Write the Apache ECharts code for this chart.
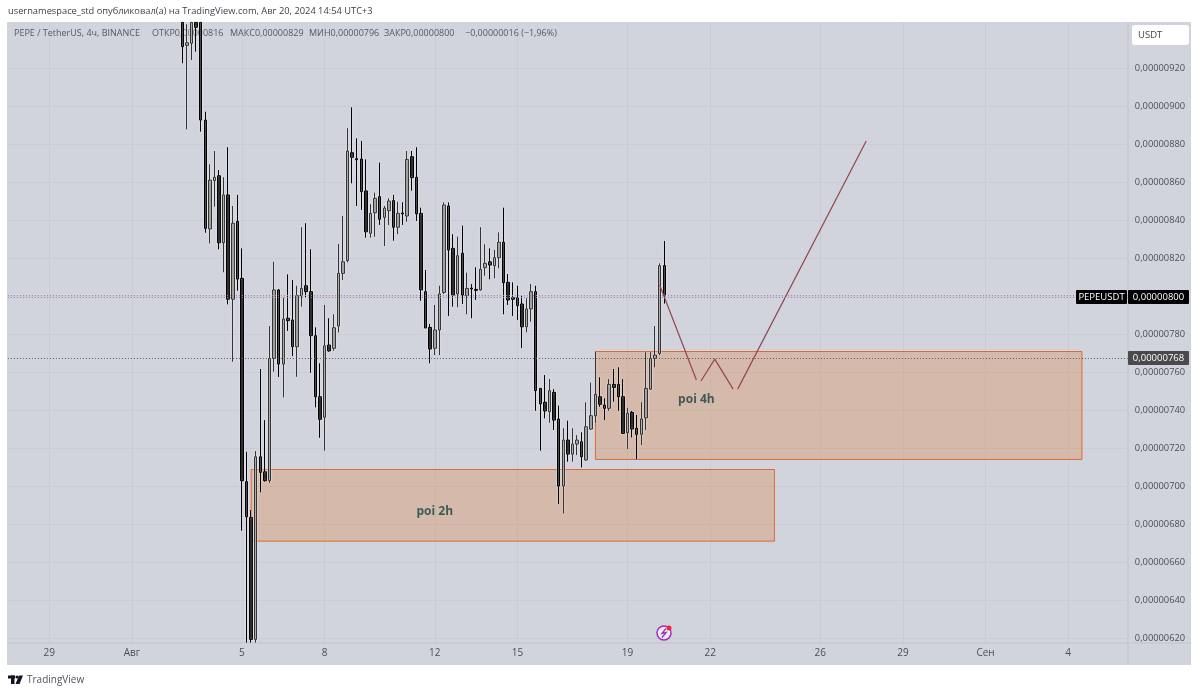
<!DOCTYPE html>
<html>
<head>
<meta charset="utf-8">
<style>
html, body { margin: 0; padding: 0; background: #fff; }
#chart { width: 1200px; height: 694px; }
</style>
<script src="https://cdn.jsdelivr.net/npm/echarts@6/dist/echarts.min.js"></script>
</head>
<body>
<div id="chart"></div>
<script>
// prices are in units of 0,00000001
var firstSlot = 38; // slot of the first candle that shows
var opens = [944,931.9,933,944,944,892.6,835.3,860.7,863.3,828,853.2,798.3,839.3,809.3,702.3,683.5,619.3,715.4,707.5,702.8,767.2,803.2,764.2,788.3,787.4,773.3,800,805.4,802.3,779.1,747,736.2,774.2,772.5,784.2,811.9,818.6,875.4,872.3,872.1,855.3,833,843.8,852.3,841.4,844.9,850.2,836.2,843.7,842.1,873.3,862.5,843.5,802.3,783.5,772.5,782.1,801.9,847.4,825.1,801.1,822.5,800.2,804.2,803.5,803.2,814.9,818,815.9,820.2,828.3,807.2,799.1,799.1,795.8,783.8,793.2,802.3,751.4,744.1,739.1,749.3,735.3,700,724.2,716.8,722.1,723.3,713.7,730,737,747,742.6,740.9,753.5,753.5,747,728.1,738.8,730.4,727.2,735.9,751,767.2,769.8,816];
var closes = [931.2,933.3,944,941.4,892.6,835.6,861,862.5,828,853.2,798.3,838.3,808.9,702.8,683.8,619.3,715.4,707.2,702.8,767.2,803.2,764.2,787.9,787,773.3,800.2,804,802.3,779.1,747,735.1,773.8,771.1,783.3,811.9,818,876.3,873,871.7,854.9,833.8,843.5,851.4,840.4,846.3,850,836.2,843.5,843.2,871.9,862.3,843.2,803.2,783.2,772.1,782.1,801.1,847.9,824.2,800.5,821.2,800.5,804,803.7,803,814.1,817.2,816.3,820.2,828.3,807,797.9,798.3,794.9,783.8,793.2,802.3,750.2,743.2,739.5,750.2,734.7,700,724.2,716.8,722.1,724.2,715.4,731.2,737,748.3,743,740.9,753.5,751.9,747,727.7,738.3,730,727.2,735.3,751.4,767.2,768.9,816,800];
var lows = [922.5,887.7,924.2,928.6,886.5,833.3,827.7,847,824.6,812.5,795.6,765.4,802.8,676.5,617.6,617.6,617.6,696.7,702.3,701.7,760.2,757.4,746.7,781.6,768.4,757.5,794.4,799.3,759.6,741.4,725.4,718.6,770.7,771.2,780.8,808.4,817.7,859.3,847.4,845.3,830.7,830.7,831.2,837.4,826.3,837.4,829.1,832.6,837.4,839.1,855.4,839.5,797.5,783,764.6,768.9,768.9,801.1,789.5,794.4,794.1,795.8,790.4,788.3,797.9,802.8,810.7,808.8,809.3,814.6,790.4,795.3,789.5,787.4,772.6,780.9,786.5,739.6,718.6,735.6,733.3,729.5,690.5,685.6,712.8,712.8,716.3,709.8,713.3,729.5,733.3,741.7,734.7,739.6,744.4,739.6,727.5,719.5,725.6,714.1,721.6,729.5,750.5,762.5,768.9,796];
var highs = [944,943,944,944,944,897,869.3,876.3,866.3,862.5,878.3,847.4,853.2,825.1,718,687.4,718.4,761.6,734.7,784.2,818,803.7,799.1,811.4,808.4,805.4,836.2,838.3,824.6,783.5,764.6,795.3,788.3,790.4,827.4,842.1,888.3,899.3,883,881.6,871.9,848.3,854.4,870.2,847.4,851.4,853.2,849.6,849.3,876.3,876.3,878.3,846.5,813.7,785.3,795.3,805.4,849.3,849.3,832.5,831.2,837,812.3,806.3,815.1,836.2,827.2,825.1,824.2,833.5,846.5,811.6,807.2,805.4,800.3,798.8,806.3,805.4,751.4,758.4,756.3,751,742.3,730.4,734.4,730.4,726.8,728.3,744.1,754.4,770.7,757.2,746.2,756.3,761.6,762.5,756.3,741.2,739.5,737.4,744.1,770.4,770.4,784.2,817.2,829];

var slotCount = 245;
var tickSlots = [9,27,51,69,93,111,135,153,177,195,213,231];
var tickLabels = ['29','Авг','5','8','12','15','19','22','26','29','Сен','4'];
var priceTicks = [620,640,660,680,700,720,740,760,780,800,820,840,860,880,900,920];

var lastPrice = 800;
var prevClose = 768;
var zoneSlots = [[53,167],[128,234]];   // poi 2h, poi 4h
var zonePrices = [[708.7,671],[770.8,714]];
var zoneNames = ['poi 2h','poi 4h'];
var zoneNameSlots = [93,150];
var zoneNamePrices = [686.6,745.5];
// three strokes of the projected path
var pathSlots = [[142,150],[151,154,158],[159,187]];
var pathPrices = [[805.8,755.8],[755.3,766.8,751],[751,881.6]];

var font = '"Open Sans", sans-serif';
var slotNames = [];
for (var k = 0; k < slotCount; k++) slotNames.push('s' + k);

var candles = opens.map(function (o, i) {
	return [firstSlot + i, o, closes[i], lows[i], highs[i]];
});
var pathData = [];
pathSlots.forEach(function (stroke, n) {
	if (n > 0) pathData.push([stroke[0], null]);
	stroke.forEach(function (s, i) { pathData.push([s, pathPrices[n][i]]); });
});

function priceText(v) {
	return '0,00000' + v;
}
function tagBox(x, y, w, h, fill, text) {
	return [
		{ type: 'rect', z: 6, shape: { x: x, y: y, width: w, height: h, r: 1 }, style: { fill: fill } },
		{ type: 'text', z: 7, x: x + w / 2, y: y + h / 2, style: { text: text, fill: '#fff', font: '9.5px ' + font, align: 'center', verticalAlign: 'middle' } }
	];
}
function topText(x, y, text, color, size) {
	return { type: 'text', z: 1, x: x, y: y, style: { text: text, fill: color, font: size + 'px ' + font, verticalAlign: 'middle' } };
}

var graphics = [
	{ type: 'rect', z: -1, shape: { x: 7, y: 22, width: 1184, height: 643 }, style: { fill: '#d1d4dd' } },
	{ type: 'line', z: 1, shape: { x1: 1128, y1: 22, x2: 1128, y2: 665 }, style: { stroke: '#c1c4cd', lineWidth: 1 } },
	{ type: 'line', z: 1, shape: { x1: 7, y1: 643, x2: 1191, y2: 643 }, style: { stroke: '#c1c4cd', lineWidth: 1 } },
	topText(8, 11, 'usernamespace_std опубликовал(а) на TradingView.com, Авг 20, 2024 14:54 UTC+3', '#3c3f48', 9.3),
	topText(14, 33, 'PEPE / TetherUS, 4ч, BINANCE', '#555964', 9),
	topText(152, 33, 'ОТКР0,00000816', '#555964', 9),
	topText(230, 33, 'МАКС0,00000829', '#555964', 9),
	topText(309, 33, 'МИН0,00000796', '#555964', 9),
	topText(384, 33, 'ЗАКР0,00000800', '#555964', 9),
	topText(465, 33, '−0,00000016 (−1,96%)', '#555964', 9),
	{ type: 'rect', z: 6, shape: { x: 1132, y: 25, width: 57, height: 20, r: 3 }, style: { fill: '#fff' } },
	{ type: 'text', z: 7, x: 1138, y: 35, style: { text: 'USDT', fill: '#3c3f48', font: '9.5px ' + font, verticalAlign: 'middle' } },
	// tradingview logo
	{ type: 'rect', z: 1, shape: { x: 8, y: 675.5, width: 7, height: 3 }, style: { fill: '#131722' } },
	{ type: 'rect', z: 1, shape: { x: 11, y: 675.5, width: 3.5, height: 8.5 }, style: { fill: '#131722' } },
	{ type: 'circle', z: 1, shape: { cx: 17, cy: 677, r: 1.6 }, style: { fill: '#131722' } },
	{ type: 'polygon', z: 1, shape: { points: [[19, 675.5], [23, 675.5], [19.5, 684], [15.5, 684]] }, style: { fill: '#131722' } },
	topText(27, 680, 'TradingView', '#50535e', 10),
	// bolt badge
	{ type: 'circle', z: 6, shape: { cx: 664, cy: 633, r: 7 }, style: { fill: '#eceaf2', stroke: '#a02fc0', lineWidth: 1.5 } },
	{ type: 'polyline', z: 7, shape: { points: [[666, 628.5], [662, 633.5], [666, 632.5], [662, 637.5]] }, style: { stroke: '#a02fc0', fill: null, lineWidth: 1.3 } },
	{ type: 'circle', z: 7, shape: { cx: 669, cy: 628, r: 2.5 }, style: { fill: '#e8283c' } }
];
graphics = graphics
	.concat(tagBox(1076, 290, 51, 14, '#000', 'PEPEUSDT'))
	.concat(tagBox(1128, 290, 61, 14, '#000', priceText(lastPrice)))
	.concat(tagBox(1128, 351, 61, 14, '#4a4a4a', priceText(prevClose)));

var chart = echarts.init(document.getElementById('chart'), null, { renderer: 'canvas' });
chart.setOption({
	animation: false,
	backgroundColor: 'transparent',
	graphic: { elements: graphics },
	grid: { left: 7.89, right: 72.15, top: 22, bottom: 51, containLabel: false },
	xAxis: {
		type: 'category',
		data: slotNames,
		boundaryGap: false,
		axisLine: { show: false },
		axisTick: { show: false },
		axisLabel: {
			interval: function (idx) { return tickSlots.indexOf(idx) >= 0; },
			formatter: function (value) { return tickLabels[tickSlots.indexOf(slotNames.indexOf(value))]; },
			margin: 5,
			hideOverlap: false,
			color: '#4a4e5a',
			fontFamily: font,
			fontSize: 10
		},
		splitLine: {
			show: true,
			interval: function (idx) { return tickSlots.indexOf(idx) >= 0; },
			lineStyle: { color: '#c9ccd5', width: 1 }
		}
	},
	yAxis: {
		type: 'value',
		position: 'right',
		min: 617.4,
		max: 944.2,
		axisLine: { show: false },
		axisTick: { show: false, customValues: priceTicks },
		axisLabel: {
			customValues: priceTicks,
			formatter: priceText,
			margin: 7,
			color: '#4a4e5a',
			fontFamily: font,
			fontSize: 9.3
		},
		splitLine: { show: true, lineStyle: { color: '#c9ccd5', width: 1 } }
	},
	series: [
		{
			type: 'candlestick',
			z: 2,
			barWidth: 3,
			dimensions: ['slot', 'open', 'close', 'low', 'high'],
			encode: { x: 'slot', y: ['open', 'close', 'low', 'high'] },
			data: candles,
			itemStyle: {
				color: '#8c8c8c',
				borderColor: '#333',
				color0: '#000',
				borderColor0: '#000',
				borderWidth: 1,
				shadowColor: 'rgba(255,255,255,0.7)',
				shadowBlur: 2
			},
			markLine: {
				silent: true,
				symbol: 'none',
				label: { show: false },
				data: [
					{ yAxis: lastPrice + 0.2, lineStyle: { color: '#d2736e', type: [1, 2], width: 1 } },
					{ yAxis: lastPrice - 0.9, lineStyle: { color: '#6a8ae6', type: [1, 2], width: 1 } },
					{ yAxis: prevClose - 0.7, lineStyle: { color: '#5a5a5a', type: [1, 2], width: 1 } }
				]
			},
			markArea: {
				silent: true,
				z: 1,
				itemStyle: {
					color: 'rgba(222,125,60,0.3)',
					borderColor: '#dd6a30',
					borderWidth: 1
				},
				data: zoneSlots.map(function (s, i) {
					return [
						{ xAxis: s[0], yAxis: zonePrices[i][0] },
						{ xAxis: s[1], yAxis: zonePrices[i][1] }
					];
				})
			}
		},
		{
			type: 'line',
			z: 3,
			data: pathData,
			showSymbol: false,
			connectNulls: false,
			lineStyle: { color: '#96444f', width: 1.2 }
		},
		{
			type: 'scatter',
			z: 4,
			symbolSize: 0,
			data: zoneNames.map(function (n, i) { return { value: [zoneNameSlots[i], zoneNamePrices[i]], name: n }; }),
			label: {
				show: true,
				position: 'inside',
				formatter: '{b}',
				color: '#17423e',
				fontFamily: font,
				fontWeight: 700,
				fontSize: 12
			}
		}
	]
});
</script>
</body>
</html>
